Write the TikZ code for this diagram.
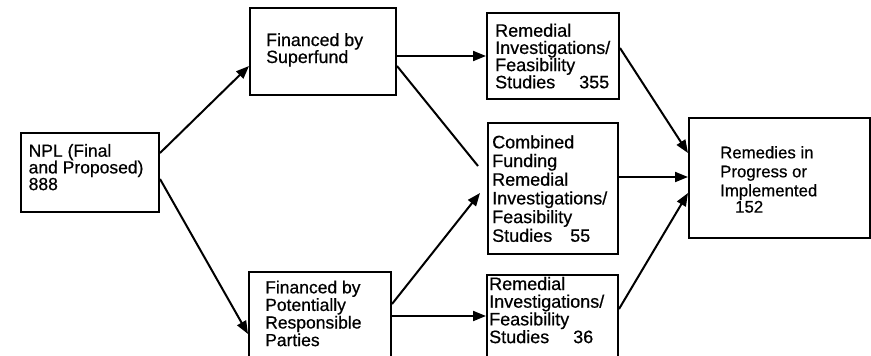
\documentclass[tikz,border=0pt]{standalone}
\usepackage{fontspec}
\setmainfont{Liberation Sans}[FakeBold=0.6]
\usetikzlibrary{arrows.meta}
\tikzset{
  box/.style={draw, line width=2pt, rectangle, inner sep=0pt, anchor=north west},
  txt/.style={anchor=base west, inner sep=0pt},
  conn/.style={line width=2pt},
  arr/.style={line width=2pt, -{Triangle[length=13pt,width=10pt]}},
}
\newcommand{\lines}[3]{\parbox[t]{170pt}{\fontsize{#1}{#2}\selectfont\raggedright #3}}
\begin{document}
\begin{tikzpicture}[x=1pt,y=-1pt]
\useasboundingbox (0,0) rectangle (871,356);
\clip (0,0) rectangle (871,356);
% boxes
\node[box, minimum width=138pt, minimum height=79pt] (npl) at (20,132) {};
\node[box, minimum width=146pt, minimum height=87pt] (sf) at (249,7) {};
\node[box, minimum width=142pt, minimum height=95pt] (prp) at (248,271) {};
\node[box, minimum width=132pt, minimum height=86pt] (ri1) at (486,12) {};
\node[box, minimum width=130pt, minimum height=131pt] (comb) at (487,122) {};
\node[box, minimum width=131pt, minimum height=92pt] (ri2) at (486,274) {};
\node[box, minimum width=181pt, minimum height=120pt] (rem) at (688,117) {};
% texts
\node[txt] (tnpl) at (28.5,156.7) {\lines{17.5}{16.7}{NPL (Final\\and Proposed)\\888}};
\node[txt] (tsf) at (266,46) {\lines{17.8}{17}{Financed by\\Superfund}};
\node[txt] (tprp) at (265,293.3) {\lines{17.5}{17.6}{Financed by\\Potentially\\Responsible\\Parties}};
\node[txt] (tri1) at (495,36.7) {\lines{18}{17.2}{Remedial\\Investigations/\\Feasibility\\Studies\hspace{24pt}355}};
\node[txt] (tcomb) at (492,148.3) {\lines{18}{18.7}{Combined\\Funding\\Remedial\\Investigations/\\Feasibility\\Studies\hspace{18pt}55}};
\node[txt] (tri2) at (489,290) {\lines{18}{17.7}{Remedial\\Investigations/\\Feasibility\\Studies\hspace{24pt}36}};
\node[txt] (trem) at (720,158.3) {\lines{16.8}{19}{Remedies in\\Progress or\\Implemented\\[-2.7pt]\hspace*{15pt}152}};
% connectors
\coordinate (mid) at ([xshift=-9pt,yshift=22.5pt]comb.west);
\draw[arr] ([yshift=19.5pt]npl.east) -- ([yshift=-14.5pt]sf.west);
\draw[arr] ([yshift=-6.5pt]npl.east) -- ([yshift=-14.5pt]prp.west);
\draw[arr] ([yshift=-4.5pt]sf.east) -- (ri1.west);
\draw[conn] ([yshift=-14.5pt]sf.east) -- (mid);
\draw[arr] ([yshift=15.5pt]prp.east) -- ([xshift=-7pt,yshift=-4.5pt]comb.west);
\draw[arr] ([yshift=3.5pt]prp.east) -- ([yshift=5pt]ri2.west);
\draw[arr] ([yshift=8pt]ri1.east) -- ([yshift=25pt]rem.west);
\draw[arr] ([yshift=11.5pt]comb.east) -- ([yshift=1pt]rem.west);
\draw[arr] ([yshift=12pt]ri2.east) -- ([yshift=-15pt]rem.west);
\end{tikzpicture}
\end{document}
